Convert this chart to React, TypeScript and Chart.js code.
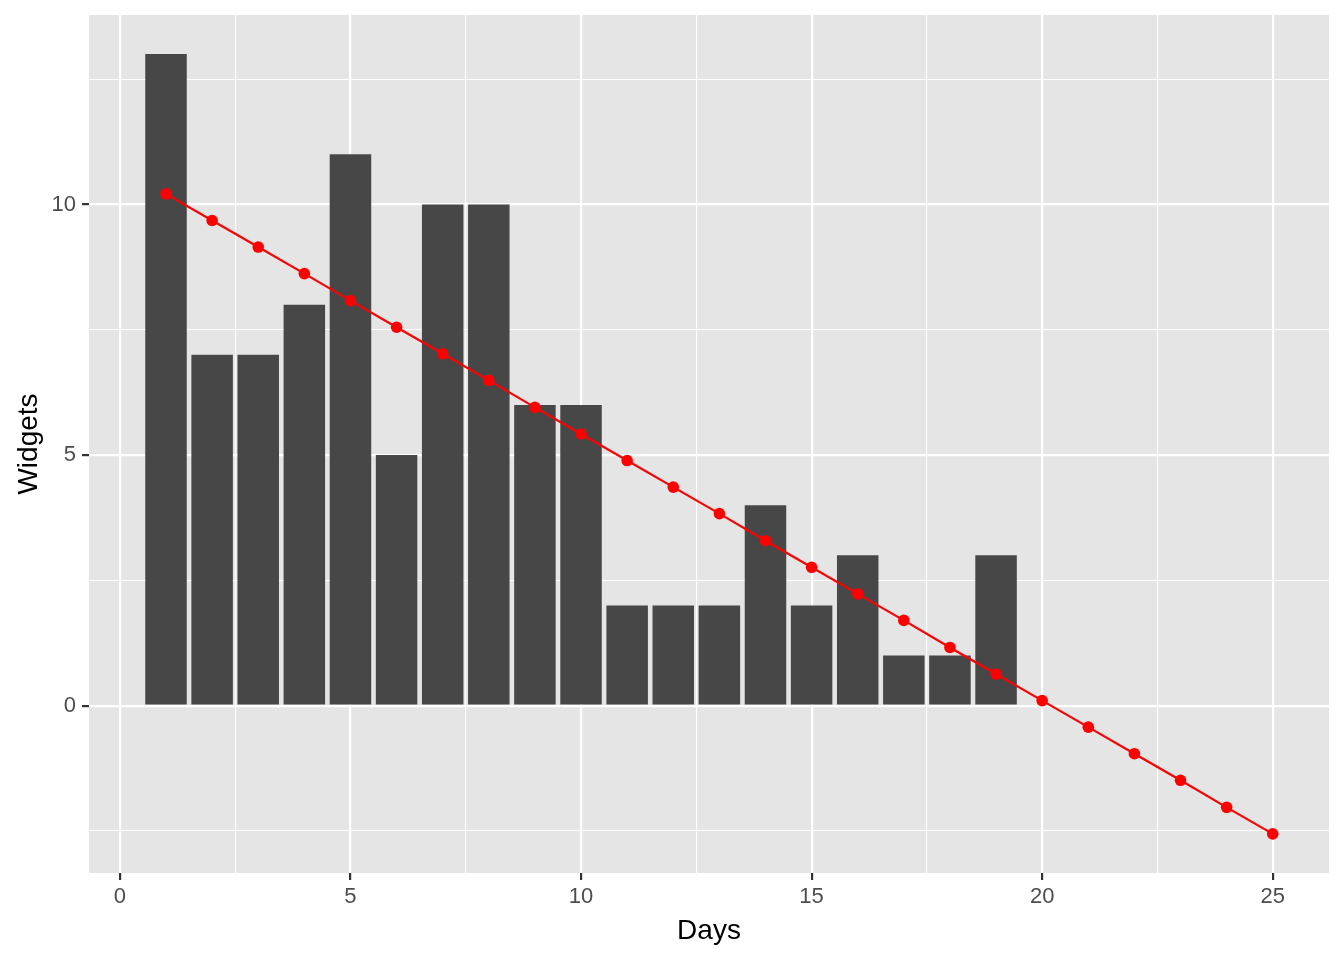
import React, { useEffect, useRef } from "react";
import { Chart, registerables } from "chart.js";

Chart.register(...registerables);

const days: number[] = [1, 2, 3, 4, 5, 6, 7, 8, 9, 10, 11, 12, 13, 14, 15, 16, 17, 18, 19];
const widgets: number[] = [13, 7, 7, 8, 11, 5, 10, 10, 6, 6, 2, 2, 2, 4, 2, 3, 1, 1, 3];
const trendDays: number[] = [1, 2, 3, 4, 5, 6, 7, 8, 9, 10, 11, 12, 13, 14, 15, 16, 17, 18, 19, 20, 21, 22, 23, 24, 25];
const trendValues: number[] = [
  10.21, 9.68, 9.15, 8.62, 8.08, 7.55, 7.02, 6.49, 5.95, 5.42, 4.89, 4.36, 3.83,
  3.29, 2.76, 2.23, 1.7, 1.16, 0.63, 0.1, -0.43, -0.96, -1.49, -2.03, -2.56,
];
const xTicks: number[] = [0, 2.5, 5, 7.5, 10, 12.5, 15, 17.5, 20, 22.5, 25];
const yTicks: number[] = [-2.5, 0, 2.5, 5, 7.5, 10, 12.5];

const FONT = "'Liberation Sans', Arial, Helvetica, sans-serif";

const isMajor = (v: number) => Math.abs(v % 5) < 1e-9;

export default function App() {
  const ref = useRef<HTMLCanvasElement | null>(null);

  useEffect(() => {
    document.body.style.margin = "0";
    const canvas = ref.current;
    if (!canvas) return;

    const bgPlugin = {
      id: "panelBg",
      beforeDraw(chart: any) {
        const { ctx, chartArea } = chart;
        ctx.save();
        ctx.fillStyle = "#E5E5E5";
        ctx.fillRect(chartArea.left, chartArea.top, chartArea.right - chartArea.left, chartArea.bottom - chartArea.top);
        ctx.restore();
      },
    };

    const gridCommon = {
      color: "#FFFFFF",
      lineWidth: (c: any) => (c.tick && isMajor(c.tick.value) ? 2.2 : 1.1),
      tickColor: (c: any) => (c.tick && isMajor(c.tick.value) ? "#333333" : "rgba(0,0,0,0)"),
      tickWidth: 2.2,
      tickLength: 7,
      drawTicks: true,
      offset: false,
    };

    const chart = new Chart(canvas, {
      type: "bar",
      data: {
        datasets: [
          {
            type: "line",
            label: "trend",
            data: trendDays.map((d, i) => ({ x: d, y: trendValues[i] })),
            borderColor: "#FF0000",
            backgroundColor: "#FF0000",
            borderWidth: 2.2,
            pointRadius: 5.8,
            pointBackgroundColor: "#FF0000",
            pointBorderWidth: 0,
            tension: 0,
            order: 0,
          } as any,
          {
            type: "bar",
            label: "widgets",
            data: days.map((d, i) => ({ x: d, y: widgets[i] })),
            backgroundColor: "#474747",
            borderWidth: 0,
            barPercentage: 0.9,
            categoryPercentage: 1.0,
            order: 1,
          } as any,
        ],
      },
      options: {
        animation: false,
        responsive: false,
        devicePixelRatio: 1,
        layout: { padding: { top: 15, right: 15, left: 0, bottom: 0 } },
        plugins: {
          legend: { display: false },
          tooltip: { enabled: false },
        },
        scales: {
          x: {
            type: "linear",
            min: -0.67,
            max: 26.22,
            offset: false,
            border: { display: false },
            grid: gridCommon as any,
            afterBuildTicks: (scale: any) => {
              scale.ticks = xTicks.map((v) => ({ value: v }));
            },
            afterFit: (scale: any) => {
              scale.height = 87;
              scale.paddingLeft = 0;
              scale.paddingRight = 0;
            },
            ticks: {
              color: "#4D4D4D",
              font: { family: FONT, size: 22 },
              padding: 4,
              maxRotation: 0,
              autoSkip: false,
              callback: (v: any) => (isMajor(Number(v)) ? String(v) : ""),
            },
            title: {
              display: true,
              text: "Days",
              color: "#000000",
              font: { family: FONT, size: 28 },
              padding: { top: 0, bottom: 12 },
            },
          },
          y: {
            type: "linear",
            min: -3.34,
            max: 13.78,
            border: { display: false },
            grid: gridCommon as any,
            afterBuildTicks: (scale: any) => {
              scale.ticks = yTicks.map((v) => ({ value: v }));
            },
            afterFit: (scale: any) => {
              scale.width = 89;
              scale.paddingTop = 0;
              scale.paddingBottom = 0;
            },
            ticks: {
              color: "#4D4D4D",
              font: { family: FONT, size: 22 },
              padding: 6,
              autoSkip: false,
              callback: (v: any) => (isMajor(Number(v)) ? String(v) : ""),
            },
            title: {
              display: true,
              text: "Widgets",
              color: "#000000",
              font: { family: FONT, size: 28 },
              padding: { top: 12, bottom: 0 },
            },
          },
        },
      },
      plugins: [bgPlugin],
    });

    return () => chart.destroy();
  }, []);

  return (
    <div style={{ position: "absolute", left: 0, top: 0, width: 1344, height: 960 }}>
      <canvas ref={ref} width={1344} height={960} style={{ width: 1344, height: 960, display: "block" }} />
    </div>
  );
}
